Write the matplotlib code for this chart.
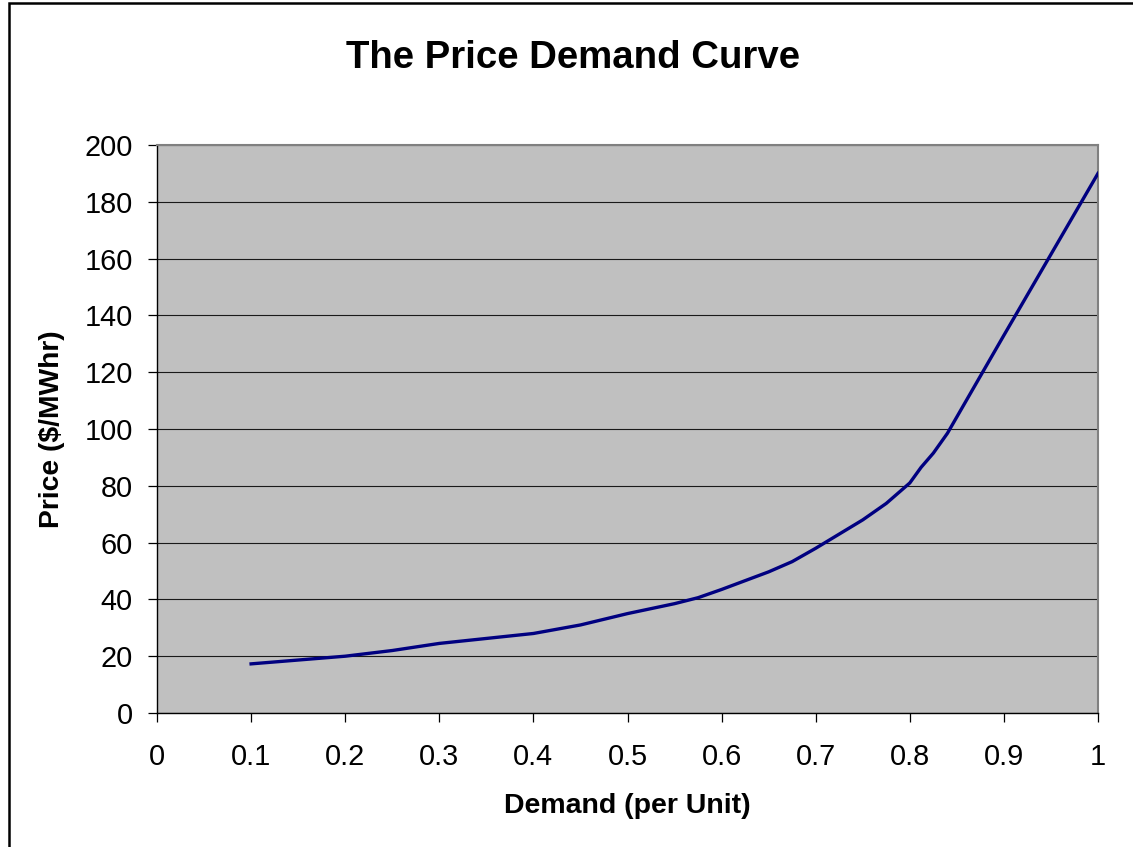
import matplotlib
matplotlib.use("Agg")
import matplotlib.pyplot as plt
from matplotlib.patches import Rectangle

# Price vs. per-unit demand
demand = [0.1, 0.2, 0.25, 0.3, 0.4, 0.45, 0.5, 0.55, 0.575, 0.6, 0.65, 0.675,
          0.7, 0.75, 0.775, 0.8, 0.812, 0.825, 0.84, 0.9, 0.95, 1.0]
price = [17.3, 20, 22, 24.5, 28, 31, 35, 38.5, 40.6, 43.5, 49.7, 53.3,
         58, 68, 73.8, 81, 86.5, 91.5, 98.5, 133, 161.5, 190]

x_ticks = [0, 0.1, 0.2, 0.3, 0.4, 0.5, 0.6, 0.7, 0.8, 0.9, 1]
x_tick_labels = ["0", "0.1", "0.2", "0.3", "0.4", "0.5", "0.6", "0.7", "0.8", "0.9", "1"]
y_ticks = [0, 20, 40, 60, 80, 100, 120, 140, 160, 180, 200]

plt.rcParams["font.family"] = ["Liberation Sans", "DejaVu Sans"]

W, H = 1133, 847
fig = plt.figure(figsize=(W / 100, H / 100), dpi=100)
fig.patch.set_facecolor("white")

left, right, top, bottom = 157, 1098, 145, 713
ax = fig.add_axes([left / W, 1 - bottom / H, (right - left) / W, (bottom - top) / H])
ax.set_facecolor("#C0C0C0")

ax.plot(demand, price, color="#000080", lw=2.4, solid_joinstyle="round", zorder=3)

ax.set_xlim(0, 1)
ax.set_ylim(0, 200)
ax.set_xticks(x_ticks)
ax.set_xticklabels(x_tick_labels)
ax.set_yticks(y_ticks)

ax.yaxis.grid(True, color="#1a1a1a", lw=0.8)
ax.set_axisbelow(True)

for side in ("top", "right"):
    ax.spines[side].set_color("#808080")
    ax.spines[side].set_linewidth(1.5)
for side in ("left", "bottom"):
    ax.spines[side].set_color("black")
    ax.spines[side].set_linewidth(1.0)

ax.tick_params(axis="both", direction="out", length=6.5, width=0.9,
               color="black", labelsize=20.8)
ax.tick_params(axis="x", pad=15)
ax.tick_params(axis="y", pad=11)

ax.set_xlabel("Demand (per Unit)", fontsize=20.5, fontweight="bold", labelpad=16)
ax.set_ylabel("Price ($/MWhr)", fontsize=20.3, fontweight="bold", labelpad=14)

fig.text(573 / W, 1 - 58 / H, "The Price Demand Curve", fontsize=27.6,
         fontweight="bold", ha="center", va="center")

# Chart frame
fig.patches.append(Rectangle((8.5 / W, -0.1), 2, 1.1 - 3 / H,
                             transform=fig.transFigure, fill=False,
                             edgecolor="black", lw=1.8, clip_on=False))

fig.savefig("out.png", dpi=100)
